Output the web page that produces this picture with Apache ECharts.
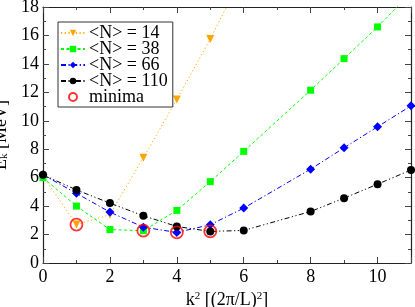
<!DOCTYPE html>
<html>
<head>
<meta charset="utf-8">
<script src="https://cdn.jsdelivr.net/npm/echarts@6/dist/echarts.min.js"></script>
<style>html,body{margin:0;padding:0;background:#fff}#c{width:415px;height:307px}</style>
</head>
<body>
<div id="c"></div>
<script>
var k2_14 = [0, 1, 2, 3, 4, 5, 6];
var E_14 = [6.1, 2.7, 3.4, 7.4, 11.5, 15.75, 20.4];
var k2_38 = [0, 1, 2, 3, 4, 5, 6, 8, 9, 10, 11];
var E_38 = [6.0, 4.0, 2.35, 2.27, 3.7, 5.72, 7.85, 12.15, 14.37, 16.6, 19.0];
var k2_66 = [0, 1, 2, 3, 4, 5, 6, 8, 9, 10, 11];
var E_66 = [6.2, 4.9, 3.58, 2.52, 2.15, 2.69, 3.86, 6.6, 8.1, 9.58, 11.05];
var k2_110 = [0, 1, 2, 3, 4, 5, 6, 8, 9, 10, 11];
var E_110 = [6.2, 5.14, 4.21, 3.32, 2.57, 2.22, 2.29, 3.62, 4.56, 5.54, 6.54];
var k2_min = [1, 3, 4, 5];
var E_min = [2.7, 2.27, 2.15, 2.22];
var names = ['<N> = 14', '<N> = 38', '<N> = 66', '<N> = 110', 'minima'];

function pairs(xs, ys) { return xs.map(function (x, i) { return [x, ys[i]]; }); }

var FONT = 'Liberation Serif';
var axisLineStyle = { color: '#222', width: 1.2 };
function mkAxis(extra) {
  return Object.assign({
    type: 'value',
    axisLine: { show: true, onZero: false, lineStyle: axisLineStyle },
    axisTick: { show: true, inside: true, length: 6, lineStyle: { color: '#444', width: 1 } },
    minorTick: { show: true, splitNumber: 2, length: 3, lineStyle: { color: '#444', width: 1 } },
    splitLine: { show: false },
    minorSplitLine: { show: false }
  }, extra);
}

var chart = echarts.init(document.getElementById('c'), null, { renderer: 'canvas' });
chart.setOption({
  animation: false,
  backgroundColor: '#fff',
  textStyle: { fontFamily: FONT },
  grid: { left: 43, right: 4, top: 7, bottom: 44, containLabel: false, outerBoundsMode: 'none' },
  xAxis: [
    mkAxis({ min: 0, max: 11, interval: 2, position: 'bottom',
      axisLabel: { fontFamily: FONT, fontSize: 18, color: '#000', margin: 5, showMaxLabel: false },
      name: '{a|k}{sup|2}{a| [(2π/L)}{sup|2}{a|]}', nameLocation: 'middle', nameGap: 27,
      nameTextStyle: { fontFamily: FONT, color: '#000', rich: {
        a: { fontFamily: FONT, fontSize: 18, color: '#000', lineHeight: 18, verticalAlign: 'bottom' },
        sup: { fontFamily: FONT, fontSize: 11, color: '#000', lineHeight: 11, verticalAlign: 'top' } } } }),
    mkAxis({ min: 0, max: 11, interval: 2, position: 'top', axisLabel: { show: false } })
  ],
  yAxis: [
    mkAxis({ min: 0, max: 18, interval: 2, position: 'left',
      axisLabel: { fontFamily: FONT, fontSize: 18, color: '#000', margin: 4 },
      name: '{a|E}{sub|k}{a| [MeV]}', nameLocation: 'middle', nameGap: 17, nameRotate: 90,
      nameTextStyle: { fontFamily: FONT, color: '#000', rich: {
        a: { fontFamily: FONT, fontSize: 18, color: '#000', lineHeight: 18, verticalAlign: 'top' },
        sub: { fontFamily: FONT, fontSize: 11, color: '#000', lineHeight: 11, verticalAlign: 'bottom' } } } }),
    mkAxis({ min: 0, max: 18, interval: 2, position: 'right', axisLabel: { show: false } })
  ],
  legend: {
    orient: 'vertical', left: 58, top: 22,
    backgroundColor: '#fff', borderColor: '#333', borderWidth: 1, borderRadius: 0,
    padding: [2, 5, 1, 2], itemGap: -2, itemWidth: 24, itemHeight: 8,
    textStyle: { fontFamily: FONT, fontSize: 18, lineHeight: 16, color: '#000', padding: [0, 0, 0, -1] },
    data: names
  },
  series: [
    { name: names[0], type: 'line', data: pairs(k2_14, E_14), symbol: 'triangle', symbolRotate: 180, symbolSize: 8,
      itemStyle: { color: '#ffa500' }, lineStyle: { color: '#ffa500', width: 1, type: [1.2, 2.5] }, clip: true },
    { name: names[1], type: 'line', data: pairs(k2_38, E_38), symbol: 'rect', symbolSize: 7,
      itemStyle: { color: '#00ff00' }, lineStyle: { color: '#00ff00', width: 1, type: [3, 2.5] }, clip: true },
    { name: names[2], type: 'line', data: pairs(k2_66, E_66), symbol: 'diamond', symbolSize: 9,
      itemStyle: { color: '#0000ff' }, lineStyle: { color: '#0000ff', width: 1, type: [5, 2.5, 1.2, 2.5] }, clip: true },
    { name: names[3], type: 'line', data: pairs(k2_110, E_110), symbol: 'circle', symbolSize: 8,
      itemStyle: { color: '#000' }, lineStyle: { color: '#000', width: 1, type: [5, 2.5, 1.2, 2.5, 1.2, 2.5] }, clip: true },
    { name: names[4], type: 'scatter', data: pairs(k2_min, E_min), symbol: 'circle', symbolSize: 12, z: 5,
      itemStyle: { color: 'rgba(0,0,0,0)', borderColor: '#ff0000', borderWidth: 1.8 } }
  ]
});
</script>
</body>
</html>
